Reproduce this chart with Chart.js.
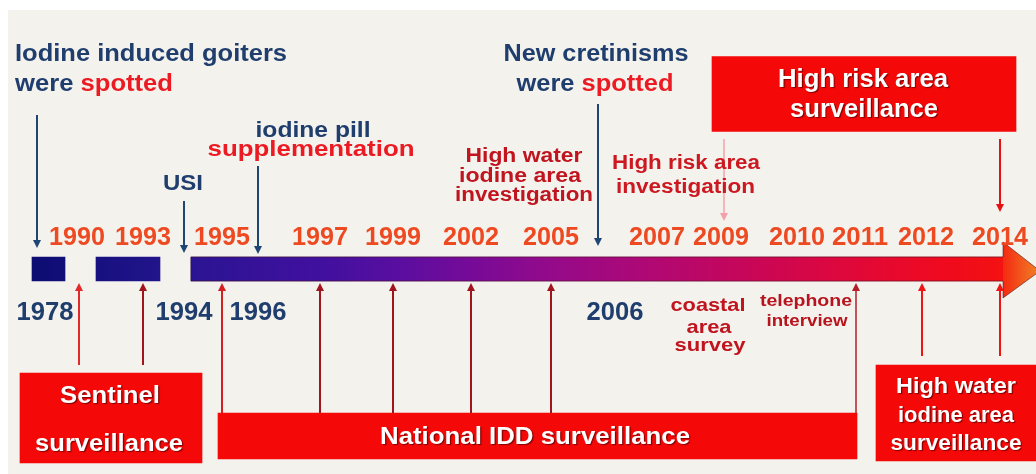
<!DOCTYPE html>
<html>
<head>
<meta charset="utf-8">
<script src="https://cdn.jsdelivr.net/npm/chart.js@4"></script>
<style>
html,body{margin:0;padding:0;background:#ffffff;}
canvas{display:block;}
</style>
</head>
<body>
<canvas id="c" width="1036" height="474"></canvas>
<script>
// ---------------- DATA ----------------
// Years shown on the timeline, in order, and where each one sits along the drawn (non-linear) timeline axis
const years     = ['1978','1990','1993','1994','1995','1996','1997','1999','2002','2005','2006','2007','2009','2010','2011','2012','2014'];
const yearSlot  = [37, 79, 143, 184, 222, 258, 320, 393, 471, 551, 598, 657, 724, 797, 856, 922, 1000];
const yearSide  = ['below','above','above','below','above','below','above','above','above','above','below','above','above','above','above','above','above'];

// Timeline segments (start, end) along the timeline axis
const timelineSpans = [[32, 65], [96, 160], [191, 1003]];

// Events marked with blue arrows (findings / measures)
const findingYears = ['1978', '1994', '1996', '2006'];
// Surveillance programmes and the years each one covered
const sentinelYears  = ['1990', '1993'];
const nationalYears  = ['1995', '1997', '1999', '2002', '2005', '2011'];
const highWaterYears = ['2012', '2014'];
const highRiskYears  = ['2014'];
const highRiskInvestigationYears = ['2009'];

// Programme boxes: names and span along the timeline axis
const programmeNames = ['Sentinel surveillance', 'National IDD surveillance', 'High water iodine area surveillance', 'High risk area surveillance'];
const programmeSpans = [[20, 202], [218, 857], [876, 1040], [712, 1016]];

// ---------------- STYLE / LAYOUT ----------------
const FONT = '"Liberation Sans", Arial, Helvetica, sans-serif';
const BLUE = '#1f3d6d';
const RED = '#ec1a22';
const DARKRED = '#c0141e';
const YEARRED = '#ee4a22';
const BOXRED = '#f40808';
const BAR_Y = 269, BAR_T = 24;
const BOX_Y = [418, 436, 413, 94];
const BOX_T = [90, 46, 96, 75];

const slotOf = y => yearSlot[years.indexOf(y)];

function timelineGradient(context) {
  const chart = context.chart;
  const {ctx, scales, chartArea} = chart;
  if (!chartArea || !scales || !scales.x) return '#3a1498';
  const x0 = scales.x.getPixelForValue(32), x1 = scales.x.getPixelForValue(1003);
  if (!isFinite(x0) || !isFinite(x1) || x0 === x1) return '#3a1498';
  const g = ctx.createLinearGradient(x0, 0, x1, 0);
  const stops = [[32,'#0c0c72'],[160,'#22148c'],[200,'#2c1494'],[320,'#40109e'],[400,'#5a0ea0'],[470,'#760a98'],[550,'#940a8a'],[650,'#b00874'],[750,'#c80658'],[850,'#e0083a'],[950,'#f00a1c'],[1003,'#f41212']];
  stops.forEach(s => g.addColorStop((s[0]-32)/(1003-32), s[1]));
  return g;
}

const datasets = [{
  label: 'timeline',
  data: timelineSpans.map(s => ({x: s, y: BAR_Y})),
  backgroundColor: timelineGradient,
  barThickness: BAR_T,
  grouped: false,
  borderWidth: 0
}];
programmeSpans.forEach((s, i) => {
  datasets.push({
    label: programmeNames[i],
    data: [{x: s, y: BOX_Y[i]}],
    backgroundColor: BOXRED,
    barThickness: BOX_T[i],
    grouped: false,
    borderWidth: 0
  });
});

function drawText(ctx, parts, x, y, size, width, align, shadow) {
  ctx.save();
  ctx.font = 'bold ' + size + 'px ' + FONT;
  const widths = parts.map(p => ctx.measureText(p[0]).width);
  const nat = widths.reduce((a, b) => a + b, 0);
  const k = width ? width / nat : 1;
  const total = nat * k;
  const start = align === 'left' ? x : (align === 'right' ? x - total : x - total / 2);
  ctx.translate(start, y);
  ctx.scale(k, 1);
  ctx.textAlign = 'left';
  ctx.textBaseline = 'alphabetic';
  if (shadow) {
    ctx.shadowColor = 'rgba(90,0,0,0.75)';
    ctx.shadowOffsetX = 1.2;
    ctx.shadowOffsetY = 1.2;
    ctx.shadowBlur = 1;
  }
  let cx = 0;
  parts.forEach((p, i) => { ctx.fillStyle = p[1]; ctx.fillText(p[0], cx, 0); cx += widths[i]; });
  ctx.restore();
}

function arrow(ctx, x, y0, y1, color, lw, head, hw) {
  lw = lw || 2; head = head || 8; hw = hw || 4;
  const dir = Math.sign(y1 - y0);
  ctx.save();
  ctx.strokeStyle = color; ctx.fillStyle = color; ctx.lineWidth = lw;
  ctx.beginPath(); ctx.moveTo(x, y0); ctx.lineTo(x, y1 - dir * head); ctx.stroke();
  ctx.beginPath(); ctx.moveTo(x, y1); ctx.lineTo(x - hw, y1 - dir * head); ctx.lineTo(x + hw, y1 - dir * head); ctx.closePath(); ctx.fill();
  ctx.restore();
}

const diagramPlugin = {
  id: 'diagram',
  beforeDraw(chart) {
    const c = chart.ctx;
    c.save();
    c.fillStyle = '#ffffff';
    c.fillRect(0, 0, chart.width, chart.height);
    c.fillStyle = '#f3f2ed';
    c.fillRect(8, 10, chart.width - 8, chart.height - 10);
    c.restore();
  },
  afterDatasetsDraw(chart) {
    const c = chart.ctx;
    const X = v => chart.scales.x.getPixelForValue(v);
    const Y = v => chart.scales.y.getPixelForValue(v);
    const top = Y(BAR_Y) - BAR_T / 2, bot = Y(BAR_Y) + BAR_T / 2;

    // arrow head of the timeline
    const hx = X(1003), tx = X(1040);
    const hg = c.createLinearGradient(hx, 0, tx, 0);
    hg.addColorStop(0, '#f42a12'); hg.addColorStop(1, '#f08426');
    c.save();
    c.fillStyle = hg;
    c.beginPath(); c.moveTo(hx, Y(242)); c.lineTo(tx, Y(271)); c.lineTo(hx, Y(298)); c.closePath(); c.fill();
    c.strokeStyle = 'rgba(70,20,30,0.55)'; c.lineWidth = 1;
    c.beginPath();
    c.moveTo(X(191), top); c.lineTo(hx, top); c.lineTo(hx, Y(242)); c.lineTo(tx, Y(271)); c.lineTo(hx, Y(298)); c.lineTo(hx, bot); c.lineTo(X(191), bot); c.closePath();
    c.stroke();
    c.restore();

    // blue arrows (findings / measures)
    const blueFrom = [115, 201, 166, 104];
    const blueTo = [248, 253, 254, 246];
    findingYears.forEach((y, i) => arrow(c, X(slotOf(y)), Y(blueFrom[i]), Y(blueTo[i]), '#1f4575', 2, 8, 4));

    // red arrows up to the bar
    const up = bot + 2;
    sentinelYears.forEach((y, i) => arrow(c, X(slotOf(y)), Y(365), up, i === 0 ? '#e22a2a' : '#a0141a', 2, 8, 4));
    nationalYears.forEach((y, i) => {
      const col = i === 0 ? '#d42020' : (y === '2011' ? '#b41e28' : '#a0141e');
      arrow(c, X(slotOf(y)), Y(413), up, col, y === '2011' ? 1.5 : 2, 8, 4);
    });
    highWaterYears.forEach(y => arrow(c, X(slotOf(y)), Y(356), up, '#f01414', 2, 8, 4));
    highRiskYears.forEach(y => arrow(c, X(slotOf(y)), Y(139), Y(212), '#e81010', 2, 8, 4));
    highRiskInvestigationYears.forEach(y => arrow(c, X(slotOf(y)), Y(139), Y(221), '#f2a2aa', 1.5, 8, 4));

    // year labels
    const nudge = {'1978': 8, '2006': 17, '1990': -2, '2009': -3, '2011': 4, '2012': 4};
    years.forEach((y, i) => {
      const x = X(yearSlot[i] + (nudge[y] || 0));
      if (yearSide[i] === 'above') drawText(c, [[y, YEARRED]], x, Y(245), 25, 56, 'center');
      else drawText(c, [[y, BLUE]], x, Y(320), 25, 57, 'center');
    });

    // top annotations
    drawText(c, [['Iodine induced goiters', BLUE]], X(15), Y(61), 23, 272, 'left');
    drawText(c, [['were ', BLUE], ['spotted', RED]], X(15), Y(91), 23, 158, 'left');
    drawText(c, [['New cretinisms', BLUE]], X(596), Y(61), 23, 185, 'center');
    drawText(c, [['were ', BLUE], ['spotted', RED]], X(595), Y(91), 23, 157, 'center');
    drawText(c, [['iodine pill', BLUE]], X(313), Y(137), 22, 115, 'center');
    drawText(c, [['supplementation', RED]], X(311), Y(156), 22, 207, 'center');
    drawText(c, [['USI', BLUE]], X(183), Y(190), 22, 40, 'center');

    drawText(c, [['High water', DARKRED]], X(524), Y(162), 20, 117, 'center');
    drawText(c, [['iodine area', DARKRED]], X(520), Y(182), 20, 122, 'center');
    drawText(c, [['investigation', DARKRED]], X(524), Y(201), 20, 138, 'center');

    drawText(c, [['High risk area', '#cc1820']], X(612), Y(169), 20, 148, 'left');
    drawText(c, [['investigation', '#cc1820']], X(616), Y(193), 20, 139, 'left');

    drawText(c, [['coastal', DARKRED]], X(708), Y(311), 19, 75, 'center');
    drawText(c, [['area', DARKRED]], X(709), Y(333), 19, 45, 'center');
    drawText(c, [['survey', DARKRED]], X(710), Y(351), 19, 71, 'center');
    drawText(c, [['telephone', '#b8141e']], X(806), Y(306), 16, 92, 'center');
    drawText(c, [['interview', '#b8141e']], X(807), Y(326), 16, 81, 'center');

    // programme box labels (white)
    const W = '#ffffff';
    drawText(c, [['Sentinel', W]], X(110), Y(403), 23, 100, 'center', true);
    drawText(c, [['surveillance', W]], X(109), Y(451), 23, 148, 'center', true);
    drawText(c, [['National IDD surveillance', W]], X(535), Y(444), 23, 310, 'center', true);
    drawText(c, [['High water', W]], X(956), Y(393), 22, 120, 'center', true);
    drawText(c, [['iodine area', W]], X(956), Y(422), 22, 116, 'center', true);
    drawText(c, [['surveillance', W]], X(956), Y(450), 22, 131, 'center', true);
    drawText(c, [['High risk area', W]], X(863), Y(87), 25, 170, 'center', true);
    drawText(c, [['surveillance', W]], X(864), Y(117), 25, 148, 'center', true);
  }
};

const chart = new Chart(document.getElementById('c'), {
  type: 'bar',
  data: { datasets: datasets },
  options: {
    indexAxis: 'y',
    responsive: false,
    devicePixelRatio: 1,
    animation: false,
    layout: { padding: 0 },
    plugins: { legend: { display: false }, tooltip: { enabled: false } },
    scales: {
      x: { type: 'linear', min: 0, max: 1036, display: false, offset: false, grid: { offset: false } },
      y: { type: 'linear', min: 0, max: 474, reverse: true, display: false, offset: false, grid: { offset: false } }
    }
  },
  plugins: [diagramPlugin]
});
</script>
</body>
</html>
